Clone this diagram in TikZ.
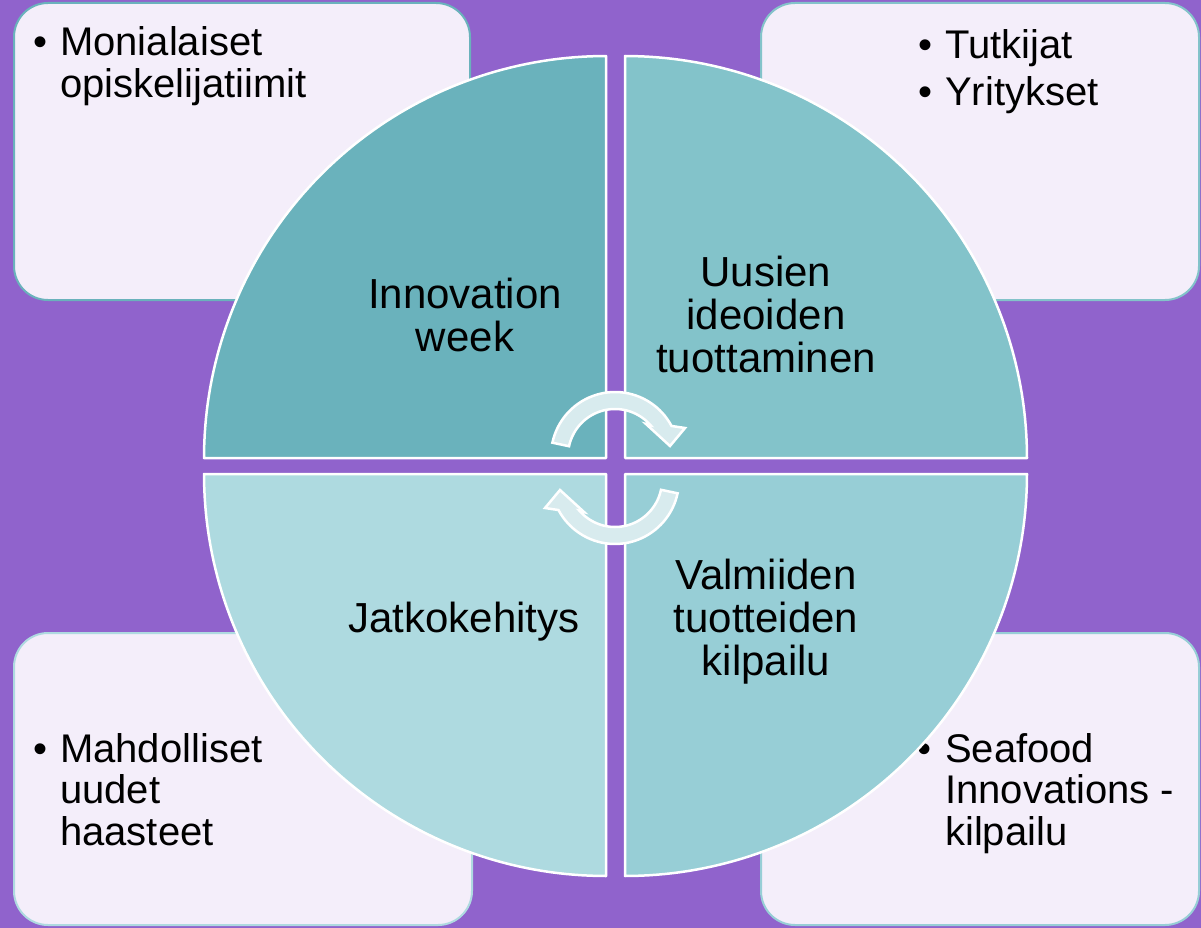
\documentclass[tikz,border=0pt]{standalone}
\usepackage{fontspec}
\setmainfont{Liberation Sans}
\definecolor{bgpurple}{HTML}{9063CC}
\definecolor{boxfill}{HTML}{F4EEFA}
\definecolor{qA}{HTML}{6AB2BC}
\definecolor{qB}{HTML}{83C3CA}
\definecolor{qC}{HTML}{AEDAE0}
\definecolor{qD}{HTML}{97CED6}
\definecolor{arrowfill}{HTML}{D8EBEE}
\begin{document}
\begin{tikzpicture}[x=1pt,y=-1pt,
  sidebox/.style={fill=boxfill, line width=2pt, rounded corners=34pt},
  quad/.style={draw=white, line width=2.5pt, line join=round},
  circtext/.style={font=\fontsize{42}{43}\selectfont, align=center, inner sep=0pt, anchor=base},
  boxtext/.style={font=\fontsize{40}{41.5}\selectfont, align=left, inner sep=0pt, anchor=base west},
  cyc/.style={fill=arrowfill, draw=white, line width=2.5pt, line join=miter}]
\fill[bgpurple] (0,0) rectangle (1201,928);
\useasboundingbox (0,0) rectangle (1201,928);
% side boxes
\draw[sidebox, draw=qA] (14,3) rectangle (470,300);
\draw[sidebox, draw=qB] (761,3) rectangle (1199,300);
\draw[sidebox, draw=qC] (14,633) rectangle (472,925);
\draw[sidebox, draw=qD] (761,633) rectangle (1199,925);
% box texts (anchor = baseline of last line)
\node[boxtext] (tl) at (33,97.5) {\makebox[27pt][l]{•}Monialaiset\\\hspace*{27pt}opiskelijatiimit};
\node[boxtext] (tr) at (918,106) {\makebox[27pt][l]{•}Tutkijat\\[6pt]\makebox[27pt][l]{•}Yritykset};
\node[boxtext] (bl) at (33,845) {\makebox[27pt][l]{•}Mahdolliset\\\hspace*{27pt}uudet\\\hspace*{27pt}haasteet};
\node[boxtext] (br) at (917,845) {\makebox[28pt][l]{•}Seafood\\\hspace*{28pt}Innovations -\\\hspace*{28pt}kilpailu};
% quadrants
\filldraw[quad, fill=qA] (606,458) -- plot[domain=180:270, samples=80] ({606+402*cos(\x)},{458+402*sin(\x)}) -- cycle;
\filldraw[quad, fill=qB] (625,458) -- plot[domain=270:360, samples=80] ({625+402*cos(\x)},{458+402*sin(\x)}) -- cycle;
\filldraw[quad, fill=qC] (606,474) -- plot[domain=90:180, samples=80] ({606+402*cos(\x)},{474+402*sin(\x)}) -- cycle;
\filldraw[quad, fill=qD] (625,474) -- plot[domain=0:90, samples=80] ({625+402*cos(\x)},{474+402*sin(\x)}) -- cycle;
% quadrant texts (anchor = baseline of last line)
\node[circtext] (q1) at (465,351) {Innovation\\week};
\node[circtext] (q2) at (766,372) {Uusien\\ideoiden\\tuottaminen};
\node[circtext] (q3) at (464,632) {Jatkokehitys};
\node[circtext] (q4) at (766,675) {Valmiiden\\tuotteiden\\kilpailu};
% cycle arrows
\filldraw[cyc] plot[domain=192:332, samples=40] ({615+64*cos(\x)},{456+64*sin(\x)}) -- (685,428) -- (670,446) -- (646,424) -- plot[domain=319:192, samples=40] ({615+47*cos(\x)},{456+47*sin(\x)}) -- cycle;
\begin{scope}[rotate around={180:(615,468)}]
\filldraw[cyc] plot[domain=192:332, samples=40] ({615+64*cos(\x)},{456+64*sin(\x)}) -- (685,428) -- (670,446) -- (646,424) -- plot[domain=319:192, samples=40] ({615+47*cos(\x)},{456+47*sin(\x)}) -- cycle;
\end{scope}
\end{tikzpicture}
\end{document}
